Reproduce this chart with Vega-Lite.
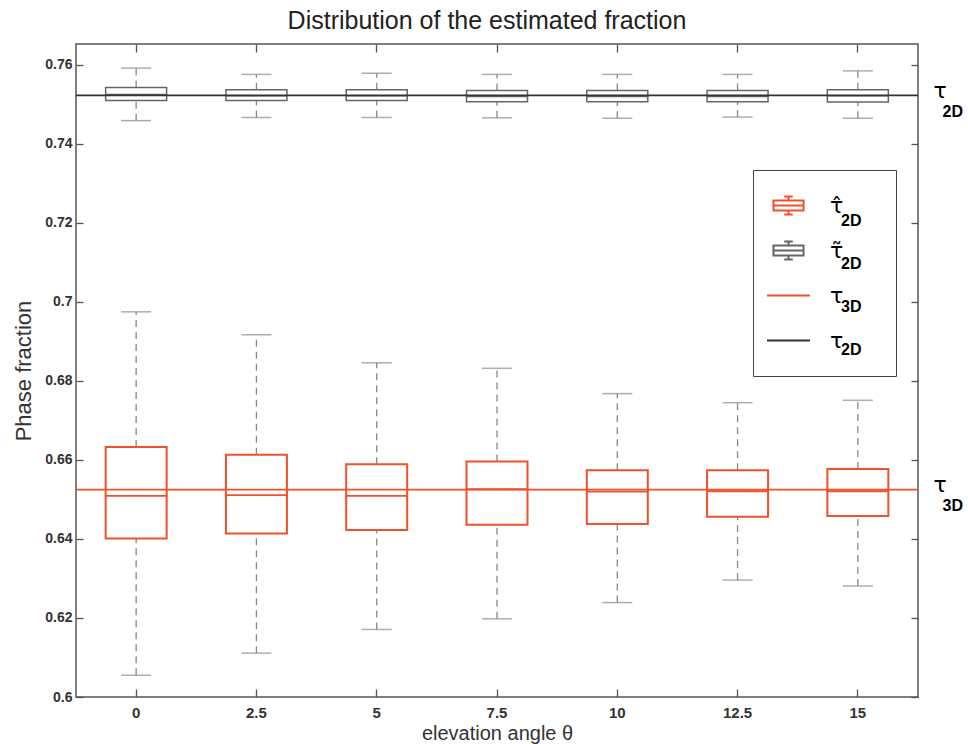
{
  "$schema": "https://vega.github.io/schema/vega-lite/v6.json",
  "width": 842,
  "height": 653,
  "autosize": {"type": "none"},
  "padding": {"left": 76, "top": 44, "right": 50, "bottom": 47},
  "background": "white",
  "title": {
    "text": "Distribution of the estimated fraction",
    "font": "Liberation Sans",
    "fontSize": 25,
    "fontWeight": "normal",
    "color": "#222",
    "offset": 9,
    "dx": -10
  },
  "config": {
    "view": {"stroke": "#555", "strokeWidth": 1.5},
    "font": "Liberation Sans",
    "axis": {"grid": false, "labelFont": "Liberation Sans", "titleFont": "Liberation Sans", "labelColor": "#333", "titleColor": "#333", "domainColor": "#555", "tickColor": "#555", "tickWidth": 1.3, "titleFontWeight": "normal"}
  },
  "datasets": {
    "boxes": [
      {"theta": "0", "series": "hat", "lower": 0.6055, "q1": 0.6401, "median": 0.6509, "q3": 0.6633, "upper": 0.6975},
      {"theta": "2.5", "series": "hat", "lower": 0.6111, "q1": 0.6414, "median": 0.6511, "q3": 0.6613, "upper": 0.6917},
      {"theta": "5", "series": "hat", "lower": 0.6171, "q1": 0.6423, "median": 0.6509, "q3": 0.6589, "upper": 0.6846},
      {"theta": "7.5", "series": "hat", "lower": 0.6198, "q1": 0.6436, "median": 0.6526, "q3": 0.6596, "upper": 0.6832},
      {"theta": "10", "series": "hat", "lower": 0.6239, "q1": 0.6438, "median": 0.652, "q3": 0.6574, "upper": 0.6768},
      {"theta": "12.5", "series": "hat", "lower": 0.6296, "q1": 0.6456, "median": 0.6521, "q3": 0.6574, "upper": 0.6745},
      {"theta": "15", "series": "hat", "lower": 0.6281, "q1": 0.6458, "median": 0.6521, "q3": 0.6577, "upper": 0.6751},
      {"theta": "0", "series": "tilde", "lower": 0.7459, "q1": 0.751, "median": 0.7525, "q3": 0.7543, "upper": 0.7592},
      {"theta": "2.5", "series": "tilde", "lower": 0.7467, "q1": 0.751, "median": 0.7522, "q3": 0.7537, "upper": 0.7576},
      {"theta": "5", "series": "tilde", "lower": 0.7467, "q1": 0.751, "median": 0.7522, "q3": 0.7537, "upper": 0.7579},
      {"theta": "7.5", "series": "tilde", "lower": 0.7466, "q1": 0.7507, "median": 0.752, "q3": 0.7535, "upper": 0.7576},
      {"theta": "10", "series": "tilde", "lower": 0.7465, "q1": 0.7507, "median": 0.752, "q3": 0.7535, "upper": 0.7576},
      {"theta": "12.5", "series": "tilde", "lower": 0.7468, "q1": 0.7507, "median": 0.752, "q3": 0.7535, "upper": 0.7576},
      {"theta": "15", "series": "tilde", "lower": 0.7465, "q1": 0.7506, "median": 0.7522, "q3": 0.7537, "upper": 0.7585}
    ],
    "lines": [
      {"k": "t3", "value": 0.6525},
      {"k": "t2", "value": 0.7523}
    ],
    "entries": [
      {"e": "e1", "s": "a"}, {"e": "e2", "s": "b"}, {"e": "e3", "s": "c"}, {"e": "e4", "s": "d"}
    ]
  },
  "layer": [
    {
      "data": {"name": "boxes"},
      "encoding": {
        "x": {
          "field": "theta",
          "type": "ordinal",
          "sort": ["0", "2.5", "5", "7.5", "10", "12.5", "15"],
          "scale": {"type": "band", "paddingInner": 0, "paddingOuter": 0},
          "axis": {
            "orient": "bottom",
            "title": "elevation angle θ",
            "titleFontSize": 20,
            "titlePadding": 3,
            "labelAngle": 0,
            "labelFontSize": 15,
            "labelFontWeight": "bold",
            "tickSize": -8,
            "labelPadding": 16,
            "domain": false
          }
        }
      },
      "layer": [
        {
          "mark": {"type": "rule", "color": "#888", "strokeDash": [7, 5], "strokeWidth": 1.3},
          "encoding": {
            "y": {
              "field": "lower",
              "type": "quantitative",
              "scale": {"domain": [0.6, 0.7653], "nice": false, "zero": false},
              "axis": {
                "orient": "left",
                "title": "Phase fraction",
                "titleFontSize": 22,
                "titlePadding": 9,
                "values": [0.6, 0.62, 0.64, 0.66, 0.68, 0.7, 0.72, 0.74, 0.76],
                "format": "~g",
                "labelFontSize": 14,
                "labelFontWeight": "bold",
                "tickSize": -7,
                "labelPadding": 11,
                "domain": false
              }
            },
            "y2": {"field": "q1"}
          }
        },
        {
          "mark": {"type": "rule", "color": "#888", "strokeDash": [7, 5], "strokeWidth": 1.3},
          "encoding": {
            "y": {"field": "q3", "type": "quantitative"},
            "y2": {"field": "upper"}
          }
        },
        {
          "mark": {"type": "tick", "color": "#8a8a8a", "size": 30, "thickness": 1.5},
          "encoding": {"y": {"field": "lower", "type": "quantitative"}}
        },
        {
          "mark": {"type": "tick", "color": "#8a8a8a", "size": 30, "thickness": 1.5},
          "encoding": {"y": {"field": "upper", "type": "quantitative"}}
        },
        {
          "mark": {"type": "bar", "size": 61, "fill": "white", "fillOpacity": 0},
          "encoding": {
            "y": {"field": "q1", "type": "quantitative"},
            "y2": {"field": "q3"},
            "stroke": {
              "field": "series",
              "type": "nominal",
              "scale": {"domain": ["hat", "tilde", "t3", "t2"], "range": ["#f0502a", "#666666", "#f0502a", "#333333"]},
              "legend": null
            },
            "strokeWidth": {"condition": {"test": "datum.series == 'hat'", "value": 2}, "value": 1.5}
          }
        },
        {
          "mark": {"type": "tick", "size": 61, "thickness": 0.3, "fillOpacity": 0},
          "encoding": {
            "y": {"field": "median", "type": "quantitative"},
            "stroke": {"field": "series", "type": "nominal", "legend": null},
            "strokeWidth": {"condition": {"test": "datum.series == 'hat'", "value": 1.6}, "value": 1.3}
          }
        }
      ]
    },
    {
      "data": {"name": "lines"},
      "mark": {"type": "rule", "strokeWidth": 1.6},
      "encoding": {
        "y": {
          "field": "value",
          "type": "quantitative",
          "scale": {"domain": [0.6, 0.7653], "nice": false, "zero": false},
          "axis": {
            "orient": "right",
            "title": null,
            "values": [0.6, 0.62, 0.64, 0.66, 0.68, 0.7, 0.72, 0.74, 0.76, 0.6525, 0.7523],
            "tickSize": -7,
            "tickOpacity": {"condition": {"test": "abs(datum.value - 0.6525) < 0.0001 || abs(datum.value - 0.7523) < 0.0001", "value": 0}, "value": 1},
            "domain": false,
            "labelPadding": 22,
            "labelFontSize": 22,
            "labelFont": "DejaVu Sans",
            "labelColor": "#000",
            "labelBaseline": "alphabetic",
            "labelOffset": 2,
            "labelExpr": "abs(datum.value - 0.6525) < 0.0001 || abs(datum.value - 0.7523) < 0.0001 ? 'τ' : ''"
          }
        },
        "stroke": {"field": "k", "type": "nominal", "legend": null}
      }
    },
    {
      "data": {"name": "boxes"},
      "mark": {"type": "tick", "opacity": 0},
      "encoding": {
        "x": {
          "field": "theta",
          "type": "ordinal",
          "sort": ["0", "2.5", "5", "7.5", "10", "12.5", "15"],
          "scale": {"type": "band", "paddingInner": 0, "paddingOuter": 0},
          "axis": {"orient": "top", "title": null, "labels": false, "tickSize": -8, "domain": false}
        },
        "y": {
          "field": "median",
          "type": "quantitative",
          "scale": {"domain": [0.6, 0.7653], "nice": false, "zero": false},
          "axis": {
            "orient": "right",
            "title": null,
            "values": [0.6525, 0.7523],
            "ticks": false,
            "domain": false,
            "labelPadding": 24,
            "labelFontSize": 16,
            "labelFontWeight": "bold",
            "labelFont": "Liberation Sans",
            "labelColor": "#000",
            "labelBaseline": "alphabetic",
            "labelOffset": 21,
            "labelExpr": "datum.value > 0.7 ? '2D' : '3D'"
          }
        }
      }
    },
    {
      "data": {"name": "entries"},
      "mark": {"type": "point", "opacity": 0, "filled": false},
      "encoding": {
        "color": {
          "field": "e",
          "type": "nominal",
          "scale": {"domain": ["e1", "e2", "e3", "e4"], "range": ["#f0502a", "#666666", "#f0502a", "#333333"]},
          "legend": {
            "orient": "none",
            "legendX": 677,
            "legendY": 126,
            "title": null,
            "strokeColor": "#444",
            "fillColor": "white",
            "padding": 13,
            "symbolSize": 1849,
            "symbolStrokeWidth": 2,
            "symbolOpacity": 1,
            "symbolFillColor": "transparent",
            "labelFontSize": 22,
            "labelColor": "#000",
            "labelFont": "DejaVu Sans",
            "labelOffset": 19,
            "rowPadding": 0,
            "labelExpr": "datum.value == 'e1' ? 'τ̂\u00a0\u2800\u2800' : datum.value == 'e2' ? 'τ̃\u00a0\u2800\u2800' : 'τ\u00a0\u2800\u2800'"
          }
        },
        "shape": {
          "field": "e",
          "type": "nominal",
          "scale": {
            "domain": ["e1", "e2", "e3", "e4"],
            "range": [
              "M0,-0.84M0,0.84M-0.7,-0.23H0.7V0.23H-0.7ZM-0.7,0H0.7M0,-0.23V-0.42M-0.2,-0.42H0.2M0,0.23V0.42M-0.2,0.42H0.2",
              "M0,-0.84M0,0.84M-0.7,-0.23H0.7V0.23H-0.7ZM-0.7,0H0.7M0,-0.23V-0.42M-0.2,-0.42H0.2M0,0.23V0.42M-0.2,0.42H0.2",
              "M0,-0.84M0,0.84M-1,0H1",
              "M0,-0.84M0,0.84M-1,0H1"
            ]
          }
        }
      }
    },
    {
      "data": {"name": "entries"},
      "mark": {"type": "point", "opacity": 0, "filled": true},
      "encoding": {
        "fill": {
          "field": "s",
          "type": "nominal",
          "scale": {"domain": ["a", "b", "c", "d"], "range": ["transparent", "transparent", "transparent", "transparent"]},
          "legend": {
            "orient": "none",
            "legendX": 677,
            "legendY": 142,
            "title": null,
            "padding": 13,
            "symbolSize": 1849,
            "symbolType": "circle",
            "symbolOpacity": 0,
            "symbolStrokeWidth": 0,
            "labelFontSize": 16,
            "labelFontWeight": "bold",
            "labelColor": "#000",
            "labelFont": "Liberation Sans",
            "labelOffset": 32,
            "rowPadding": 0,
            "labelExpr": "datum.value == 'c' ? '3D' : '2D'"
          }
        }
      }
    }
  ],
  "resolve": {"scale": {"y": "independent", "x": "independent"}, "axis": {"y": "independent", "x": "independent"}}
}
